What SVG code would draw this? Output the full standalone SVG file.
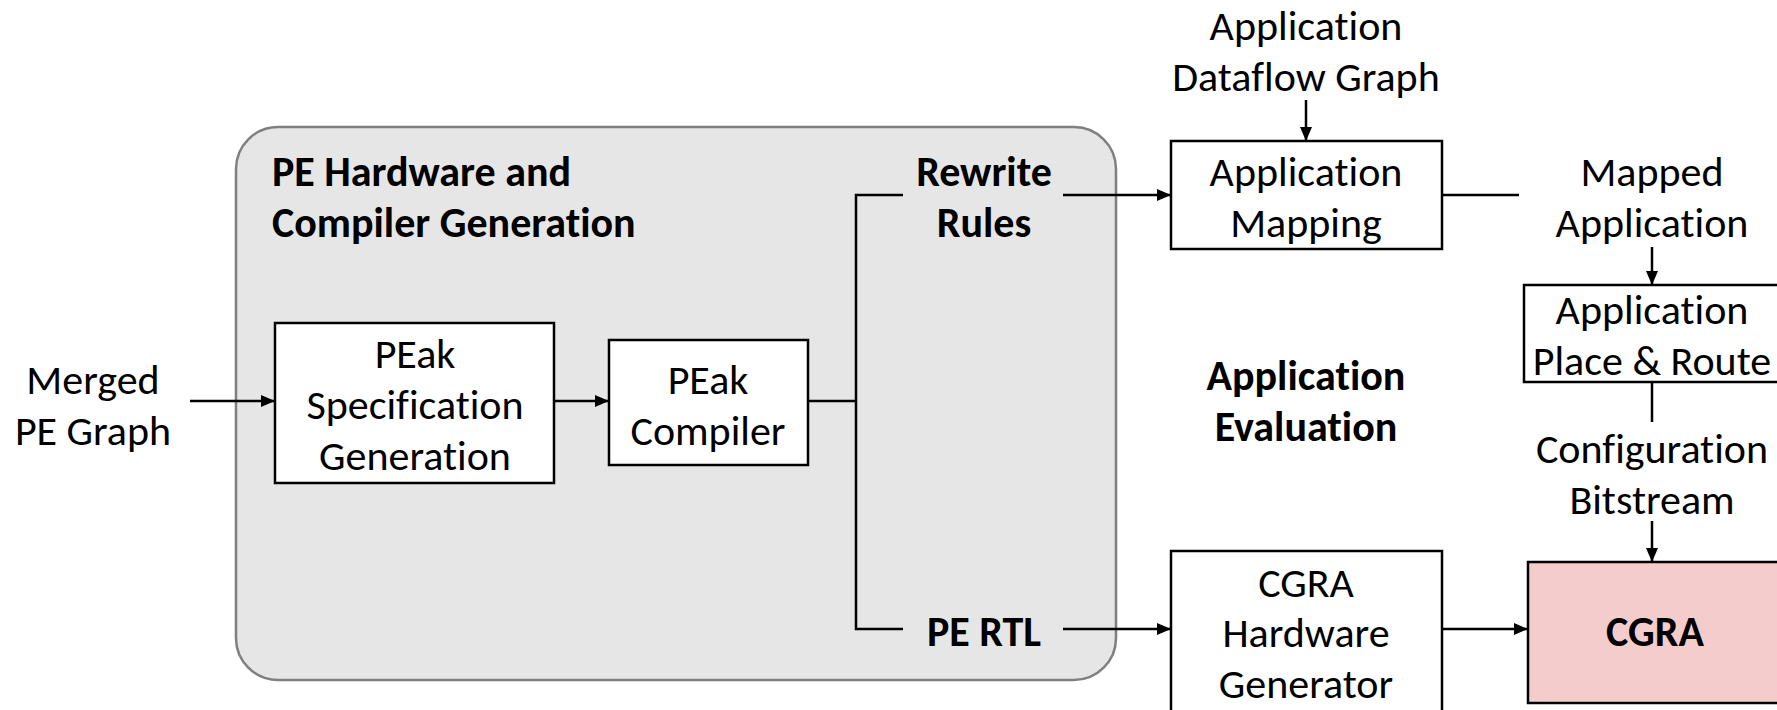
<svg xmlns="http://www.w3.org/2000/svg" width="1777" height="710" viewBox="0 0 1777 710">
<defs>
<marker id="ah" markerWidth="14" markerHeight="12" refX="13" refY="6" orient="auto" markerUnits="userSpaceOnUse" viewBox="0 0 14 12">
<path d="M0,0 L14,6 L0,12 z" fill="#000"/>
</marker>
<style>
text{font-family:Carlito,Lato,"Liberation Sans",sans-serif;font-size:42px;fill:#000;text-anchor:middle;font-variant-ligatures:none}
.b{font-weight:bold}
.l{text-anchor:start}
.box{fill:#fff;stroke:#000;stroke-width:2.5}
.c{fill:none;stroke:#000;stroke-width:2.5}
.a{fill:none;stroke:#000;stroke-width:2.5;marker-end:url(#ah)}
</style>
</defs>
<rect width="1777" height="710" fill="#fff"/>
<g id="pe-group">
<rect x="236" y="127" width="880" height="553" rx="42" fill="#e6e6e6" stroke="#7f7f7f" stroke-width="2.5"/>
<text class="b l" x="272" y="186">PE Hardware and</text>
<text class="b l" x="272" y="237">Compiler Generation</text>
</g>
<g id="merged">
<text x="93" y="394">Merged</text>
<text x="93" y="445">PE Graph</text>
</g>
<g id="peak-spec">
<rect class="box" x="275" y="323" width="279" height="160"/>
<text x="415" y="368">PEak</text>
<text x="415" y="419">Specification</text>
<text x="415" y="470">Generation</text>
</g>
<g id="peak-compiler">
<rect class="box" x="609" y="340" width="199" height="125"/>
<text x="708" y="394">PEak</text>
<text x="708" y="445">Compiler</text>
</g>
<g id="rewrite">
<text class="b" x="984" y="186">Rewrite</text>
<text class="b" x="984" y="237">Rules</text>
</g>
<g id="pertl">
<text class="b" x="984" y="646">PE RTL</text>
</g>
<g id="adg">
<text x="1306" y="40">Application</text>
<text x="1306" y="91">Dataflow Graph</text>
</g>
<g id="app-mapping">
<rect class="box" x="1171" y="141" width="271" height="108"/>
<text x="1306" y="186">Application</text>
<text x="1306" y="237">Mapping</text>
</g>
<g id="mapped">
<text x="1652" y="186">Mapped</text>
<text x="1652" y="237">Application</text>
</g>
<g id="pnr">
<rect class="box" x="1524" y="285" width="270" height="97"/>
<text x="1652" y="324">Application</text>
<text x="1652" y="375">Place &amp; Route</text>
</g>
<g id="bitstream">
<text x="1652" y="463">Configuration</text>
<text x="1652" y="514">Bitstream</text>
</g>
<g id="eval">
<text class="b" x="1306" y="390">Application</text>
<text class="b" x="1306" y="441">Evaluation</text>
</g>
<g id="cgra-gen">
<rect class="box" x="1171" y="551" width="271" height="175"/>
<text x="1306" y="597">CGRA</text>
<text x="1306" y="647">Hardware</text>
<text x="1306" y="698">Generator</text>
</g>
<g id="cgra">
<rect x="1528" y="562" width="270" height="141" fill="#f4cccc" stroke="#000" stroke-width="2.5"/>
<text class="b" x="1655" y="646">CGRA</text>
</g>
<g id="connectors">
<line class="a" x1="190" y1="401" x2="274" y2="401"/>
<line class="a" x1="554" y1="401" x2="608" y2="401"/>
<polyline class="c" points="808,401 856,401"/>
<polyline class="c" points="903,195 856,195 856,629 903,629"/>
<line class="a" x1="1063" y1="195" x2="1170" y2="195"/>
<line class="a" x1="1063" y1="629" x2="1170" y2="629"/>
<line class="a" x1="1306" y1="100" x2="1306" y2="140"/>
<line class="c" x1="1442" y1="195" x2="1519" y2="195"/>
<line class="a" x1="1652" y1="247" x2="1652" y2="284"/>
<line class="c" x1="1652" y1="382" x2="1652" y2="422"/>
<line class="a" x1="1652" y1="521" x2="1652" y2="561"/>
<line class="a" x1="1442" y1="629" x2="1527" y2="629"/>
</g>
</svg>
